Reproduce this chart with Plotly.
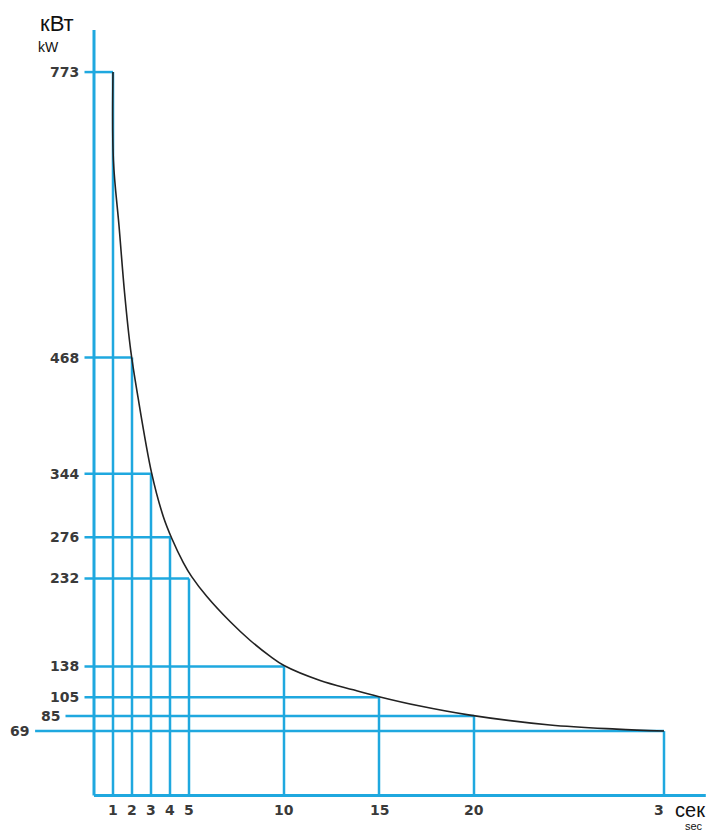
import plotly.graph_objects as go

# ── Data ─────────────────────────────────────────────
# marked points: time (sec) -> power (kW)
SECONDS = [1, 2, 3, 4, 5, 10, 15, 20, 30]
POWER_KW = [773, 468, 344, 276, 232, 138, 105, 85, 69]
X_TICK_TEXT = ["1", "2", "3", "4", "5", "10", "15", "20", "30"]
Y_TICK_TEXT = ["773", "468", "344", "276", "232", "138", "105", "85", "69"]

# curve
CURVE_T = [1, 1.02, 1.32, 1.61, 1.93, 2.28, 3.04, 3.65, 4.09, 4.7, 5.14, 5.93,
           7.16, 8.21, 9.26, 10, 11.9, 13.65, 15, 17.16, 19.79, 24, 27.5, 30]
CURVE_P = [773, 679, 608, 537, 476, 430, 344, 298, 275, 249, 234, 213,
           186, 166, 149, 139, 123, 113, 105.7, 95.7, 86, 75.4, 71, 69]

# where each horizontal guide starts (left of the y axis)
H_START = [-0.5, -0.5, -0.5, -0.5, -0.5, -0.5, -0.5, -1.5, -3.1]

BLUE = "#1fa8df"
TEXT = "#3a3a3a"
TICK_FONT = dict(family="DejaVu Sans", size=14, color=TEXT, weight="bold")

fig = go.Figure()

# axes drawn as blue lines
fig.add_trace(go.Scatter(x=[0, 0], y=[0, 818], mode="lines",
                         line=dict(color=BLUE, width=3), hoverinfo="skip"))
fig.add_trace(go.Scatter(x=[0, 32.2], y=[0, 0], mode="lines",
                         line=dict(color=BLUE, width=3), hoverinfo="skip"))

# guide lines
for t, p, x0 in zip(SECONDS, POWER_KW, H_START):
    fig.add_trace(go.Scatter(x=[x0, t], y=[p, p], mode="lines",
                             line=dict(color=BLUE, width=2.5), hoverinfo="skip"))
    fig.add_trace(go.Scatter(x=[t, t], y=[0, p], mode="lines",
                             line=dict(color=BLUE, width=2.5), hoverinfo="skip"))

# curve
fig.add_trace(go.Scatter(x=CURVE_T, y=CURVE_P, mode="lines",
                         line=dict(color="#222222", width=1.6, shape="spline", smoothing=1.0),
                         hovertemplate="%{x} s<br>%{y} kW<extra></extra>"))

# y labels
for p, lab, x0 in zip(POWER_KW, Y_TICK_TEXT, H_START):
    fig.add_annotation(x=x0, y=p, text=lab, showarrow=False, xanchor="right",
                       xshift=-4, font=TICK_FONT)

# x labels
for t, lab in zip(SECONDS, X_TICK_TEXT):
    fig.add_annotation(x=t, y=-15.4, text=lab, showarrow=False, font=TICK_FONT)

# unit labels
fig.add_annotation(x=-1.95, y=824.4, text="кВт", showarrow=False, bgcolor="white",
                   font=dict(family="Liberation Sans", size=22, color="#111111"))
fig.add_annotation(x=-2.37, y=799.8, text="kW", showarrow=False,
                   font=dict(family="Liberation Sans", size=14, color="#111111"))
# white box over the end of the "30" label, as in the original
fig.add_annotation(x=(712 - 94) / 19, y=-15.4, xanchor="right",
                   text="&nbsp;&nbsp;сек.", showarrow=False, bgcolor="white",
                   borderpad=0,
                   font=dict(family="Liberation Sans", size=20, color="#111111"))
fig.add_annotation(x=31.58, y=-32.5, text="sec", showarrow=False,
                   font=dict(family="Liberation Sans", size=11, color="#111111"))

# the page body adds an 8px margin, so the figure is 8px smaller each way
fig.update_layout(
    width=706, height=826,
    margin=dict(l=0, r=0, t=0, b=0),
    paper_bgcolor="white", plot_bgcolor="white",
    showlegend=False,
    xaxis=dict(range=[(8 - 94) / 19, (714 - 94) / 19], visible=False, fixedrange=True),
    yaxis=dict(range=[-41, (795.6 - 8) / 0.936], visible=False, fixedrange=True),
)

fig.write_html("out.html")
